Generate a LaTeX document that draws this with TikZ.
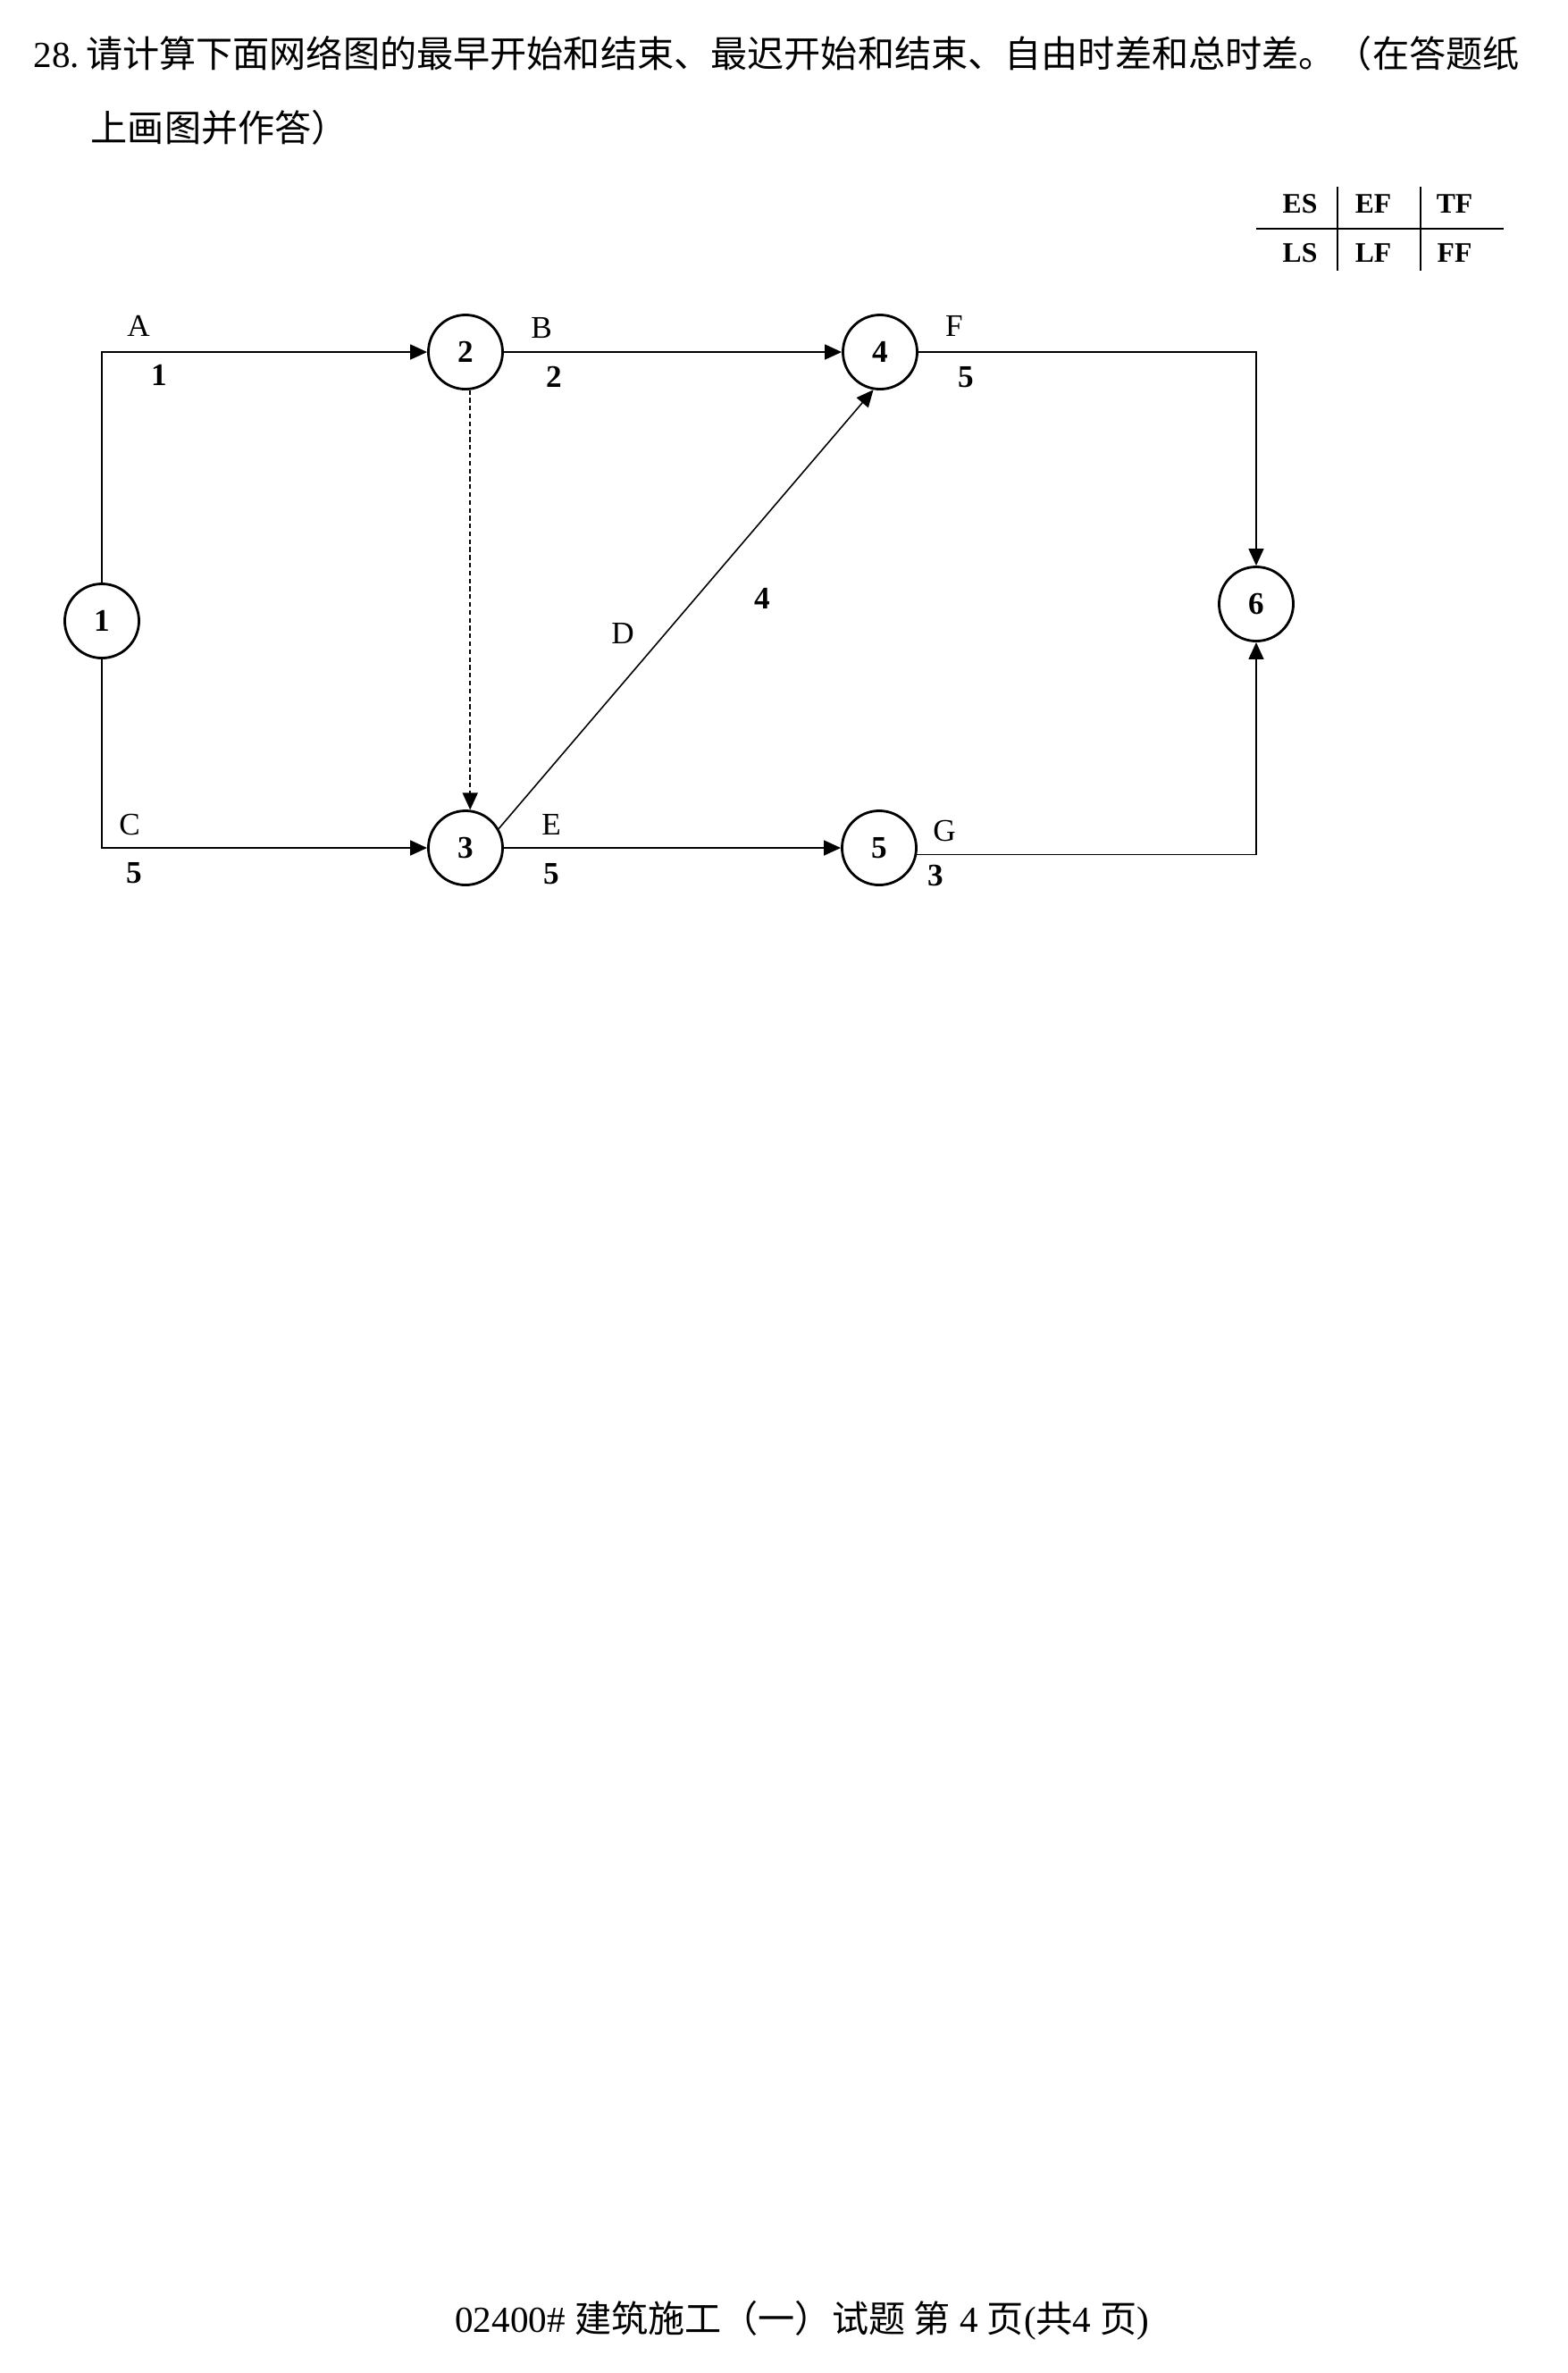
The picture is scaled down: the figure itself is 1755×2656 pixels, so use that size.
\documentclass[tikz,border=0pt]{standalone}
\usepackage{fontspec}
\setmainfont{Liberation Serif}
\newfontfamily\cjk{Noto Sans CJK SC}
\usetikzlibrary{arrows.meta, positioning}
\tikzstyle{arrow} = [-{Triangle[length=1.9mm, width=1.7mm]}]

\begin{document}
\begin{tikzpicture}[x=0.01cm, y=-0.01cm, line width=0.45pt,
    event/.style={circle, draw=black, line width=0.8pt, minimum size=0.83cm, inner sep=0pt, font=\fontsize{10}{12}\selectfont\bfseries},
    job/.style={font=\fontsize{10}{12}\selectfont},
    dur/.style={font=\fontsize{10}{12}\selectfont\bfseries},
    head/.style={font=\fontsize{9}{11}\selectfont\bfseries},
    txt/.style={font=\fontsize{11.7}{14}\selectfont},
]
\useasboundingbox (0,0) rectangle (1755,2656);

% Question
\node[txt, anchor=west, inner sep=0pt] (title) at (37,60) {28.\,{\cjk 请计算下面网络图的最早开始和结束、最迟开始和结束、自由时差和总时差。（在答题纸}};
\node[txt, anchor=west, inner sep=0pt] (title2) at (101,143) {\cjk 上画图并作答）};

% Legend
\node[head] (es) at (1455,228) {ES};
\node[head] (ef) at (1537,228) {EF};
\node[head] (tf) at (1628,228) {TF};
\node[head] (ls) at (1455,283) {LS};
\node[head] (lf) at (1537,283) {LF};
\node[head] (ff) at (1628,283) {FF};
\draw[line width=0.7pt] (1406,256) -- (1683,256);
\draw (1497,209) -- (1497,303);
\draw (1590,209) -- (1590,303);

% Events
\node[event] (n1) at (114,695) {1};
\node[event] (n2) at (521,394) {2};
\node[event] (n3) at (521,949) {3};
\node[event] (n4) at (985,394) {4};
\node[event] (n5) at (984,949) {5};
\node[event] (n6) at (1406,676) {6};

% Activities
\draw[arrow] (n1.north) |- (n2.west);
\draw[arrow] (n1.south) |- (n3.west);
\draw[arrow] (n2.east) -- (n4.west);
\draw[arrow, dash pattern=on 1.5pt off 1pt] (n2.-83) -- (n3.83);
\draw[arrow] (n3.30) -- (n4.-100);
\draw[arrow] (n3.east) -- (n5.west);
\draw[arrow] (n4.east) -| (n6.north);
\draw[arrow] (n5.-10) -| (n6.south);

% Activity names and durations
\node[job] (lA) at (155,365) {A};
\node[dur] (dA) at (178,420) {1};
\node[job] (lB) at (606,367) {B};
\node[dur] (dB) at (620,422) {2};
\node[job] (lF) at (1068,365) {F};
\node[dur] (dF) at (1081,422) {5};
\node[job] (lC) at (145,923) {C};
\node[dur] (dC) at (150,977) {5};
\node[job] (lE) at (617,923) {E};
\node[dur] (dE) at (617,978) {5};
\node[job] (lG) at (1057,930) {G};
\node[dur] (dG) at (1047,980) {3};
\node[job] (lD) at (697,709) {D};
\node[dur] (dD) at (853,670) {4};

% Footer
\node[txt] (foot) at (898,2597) {02400\# {\cjk 建筑施工（一）试题 第} 4 {\cjk 页}({\cjk 共}4 {\cjk 页})};

\end{tikzpicture}
\end{document}
